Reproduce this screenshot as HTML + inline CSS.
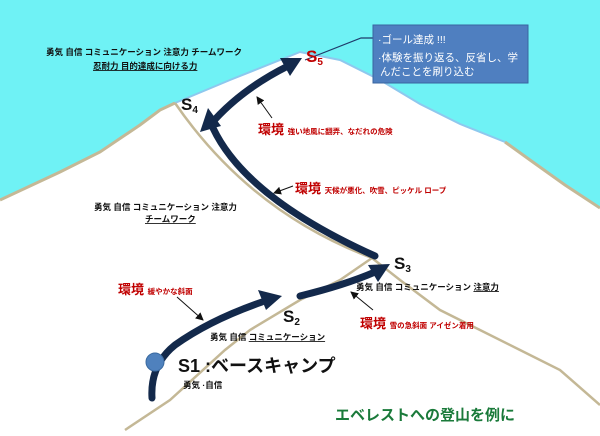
<!DOCTYPE html>
<html><head><meta charset="utf-8"><style>
body{margin:0;width:600px;height:436px;overflow:hidden;background:#fff}
svg{display:block}
text{font-family:"Liberation Sans","Noto Sans CJK JP",sans-serif}
.k{font-size:8.5px;font-weight:bold;fill:#111}
.r{font-size:7.5px;fill:#c00000}
.R{font-size:13px;font-weight:bold;fill:#c00000}
.S{font-size:17px;font-weight:bold;fill:#111}
</style></head><body>
<svg width="600" height="436" viewBox="0 0 600 436">
<defs><marker id="ah" markerWidth="8" markerHeight="8" refX="7" refY="4" orient="auto" markerUnits="userSpaceOnUse"><path d="M0,0 L8,4 L0,8 z" fill="#111"/></marker></defs>
<rect width="600" height="436" fill="#6ff2f5"/>
<path d="M0,200 L60,172 L100,152 L140,125 L160,110 L175,103 L230,80 L300,52 L340,60 L380,80 L420,104 L460,124 L505,142 L530,160 L565,185 L600,208 L600,436 L0,436 Z" fill="#fff"/>
<path d="M175,103 L230,80 L300,52 L340,60 L380,80 L420,104 L460,124 L505,142" fill="none" stroke="#8ec8ee" stroke-width="2"/>
<path d="M0,200 L60,172 L100,152 L140,125 L160,110 L175,103" fill="none" stroke="#c4b896" stroke-width="3"/>
<path d="M505,142 L530,160 L565,185 L600,208" fill="none" stroke="#c4b896" stroke-width="3"/>
<path d="M125,430 L170,400 L225,350 L250,330 L300,300 L340,280 L372,258 L400,280 L440,310 L480,330 L520,350 L560,370 L600,405" fill="none" stroke="#c4b896" stroke-width="2.5"/>
<path d="M372,258 Q250,212 175,103" fill="none" stroke="#c4b896" stroke-width="2.5"/>
<g fill="none" stroke="#13294b" stroke-width="7" stroke-linecap="round">
<path d="M152,398 Q150,365 175,345 Q210,320 262,302"/>
<path d="M300,296 Q345,285 375,272"/>
<path d="M375,256 Q246,198 213,128"/>
<path d="M210,125 Q240,90 288,66"/>
</g>
<g fill="#13294b">
<path d="M282,296 L258,290 L266,310 Z"/>
<path d="M390,264 L368,265 L378,282 Z"/>
<path d="M208,108 L200,132 L221,126 Z"/>
<path d="M302,58 L280,58 L290,76 Z"/>
</g>
<circle cx="155" cy="362" r="9" fill="#4f81bd" stroke="#3a6aa0"/>
<g stroke="#111" stroke-width="1">
<line x1="272" y1="118" x2="257" y2="97" marker-end="url(#ah)"/>
<line x1="293" y1="186" x2="274" y2="193" marker-end="url(#ah)"/>
<line x1="177" y1="297" x2="203" y2="320" marker-end="url(#ah)"/>
<line x1="373" y1="310" x2="351" y2="292" marker-end="url(#ah)"/>
</g>
<path d="M305,60 L361,38 L373,38" fill="none" stroke="#1f3a6a" stroke-width="1.2"/>
<rect x="373" y="25" width="155" height="58" fill="#4f7fc0" stroke="#3a64a0"/>
<text x="378" y="43" fill="#fff" font-size="10.5">·ゴール達成 !!!</text>
<text x="378" y="61" fill="#fff" font-size="10.5">·体験を振り返る、反省し、学</text>
<text x="380" y="75" fill="#fff" font-size="10.5">んだことを刷り込む</text>
<text x="46" y="55" class="k">勇気  自信  コミュニケーション  注意力  チームワーク</text>
<text x="93" y="69" class="k" text-decoration="underline">忍耐力  目的達成に向ける力</text>
<text x="306" y="62" font-size="17" font-weight="bold" fill="#c00000">S<tspan font-size="10" dy="3">5</tspan></text>
<text x="181" y="110" class="S">S<tspan font-size="10" dy="3">4</tspan></text>
<text x="258" y="134" class="R">環境 <tspan class="r">強い地風に翻弄、なだれの危険</tspan></text>
<text x="295" y="193" class="R">環境 <tspan class="r">天候が悪化、吹雪、ピッケル  ロープ</tspan></text>
<text x="94" y="210" class="k">勇気  自信  コミュニケーション  注意力</text>
<text x="145" y="222" class="k" text-decoration="underline">チームワーク</text>
<text x="394" y="269" class="S">S<tspan font-size="10" dy="3">3</tspan></text>
<text x="356" y="290" class="k">勇気  自信  コミュニケーション  <tspan text-decoration="underline">注意力</tspan></text>
<text x="118" y="294" class="R">環境 <tspan class="r">緩やかな斜面</tspan></text>
<text x="283" y="322" class="S">S<tspan font-size="10" dy="3">2</tspan></text>
<text x="360" y="328" class="R">環境 <tspan class="r">雪の急斜面  アイゼン着用</tspan></text>
<text x="210" y="340" class="k">勇気  自信  <tspan text-decoration="underline">コミュニケーション</tspan></text>
<text x="178" y="372" font-size="18" font-weight="bold" fill="#111">S1 :ベースキャンプ</text>
<text x="183" y="388" class="k">勇気 ·自信</text>
<text x="335" y="420" font-size="15" font-weight="bold" fill="#1a7a3a">エベレストへの登山を例に</text>
</svg>
</body></html>
